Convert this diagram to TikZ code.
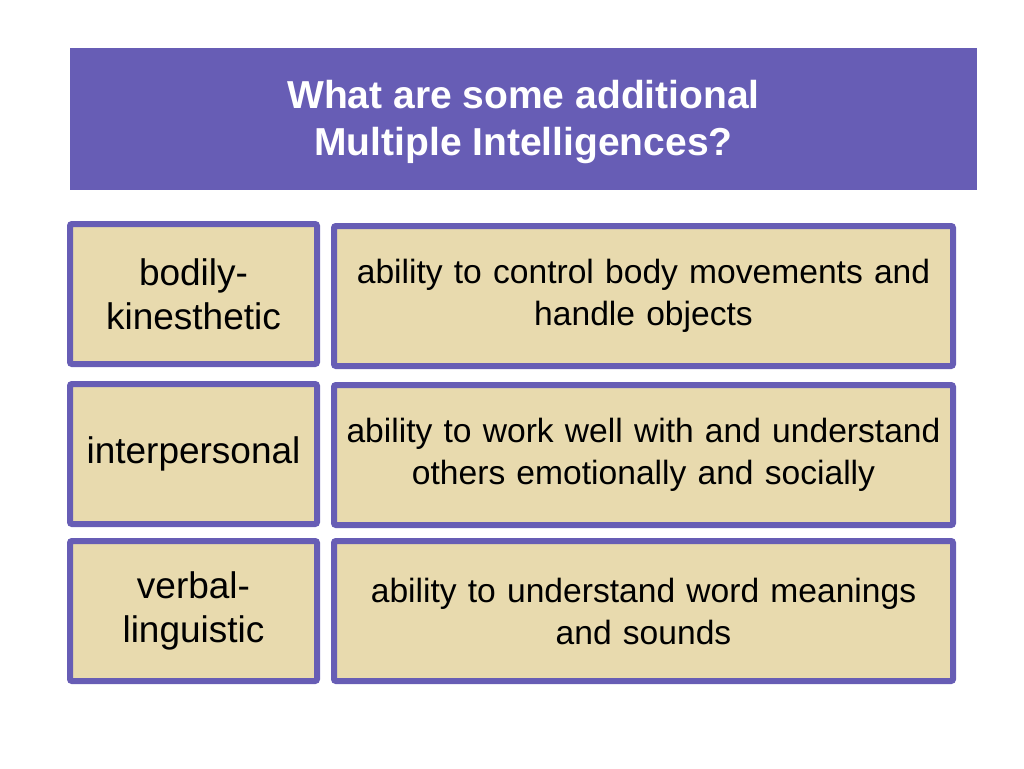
\documentclass[tikz,border=0pt]{standalone}
\usepackage{fontspec}
\setmainfont{Liberation Sans}
\definecolor{mipurple}{RGB}{103,93,181}
\definecolor{mitan}{RGB}{232,218,174}
\begin{document}
\begin{tikzpicture}[x=1pt,y=-1pt,
    cell/.style={draw=mipurple, line width=6pt, fill=mitan, rounded corners=2pt,
      minimum height=140pt, align=center, inner sep=0pt},
    term/.style={cell, minimum width=247pt, text width=245pt,
      font=\fontsize{37}{44}\selectfont},
    meaning/.style={cell, minimum width=619pt, text width=615pt,
      font=\fontsize{33.6}{42}\selectfont}
  ]
  \useasboundingbox (0,0) rectangle (1024,768);
  % title bar
  \node[fill=mipurple, minimum width=907pt, minimum height=147pt, inner sep=0pt,
    text=white, align=center, font=\bfseries\fontsize{39}{47}\selectfont]
    (title) at (523.5,122) {What are some additional\\ Multiple Intelligences?};
  \path[fill=white] (0,190) rectangle (1024,200);

  % rows
  \node[term] (term1) at (193.5,294) {bodily-\\kinesthetic};
  \node[meaning] (mean1) at (643.5,296) {ability to control body movements and\\handle objects};

  \node[term] (term2) at (193.5,454) {interpersonal};
  \node[meaning] (mean2) at (643.5,455) {ability to work well with and understand\\others emotionally and socially};

  \node[term] (term3) at (193.5,611) {verbal-\\linguistic};
  \node[meaning] (mean3) at (643.5,611) {ability to understand word meanings\\and sounds};
\end{tikzpicture}
\end{document}
